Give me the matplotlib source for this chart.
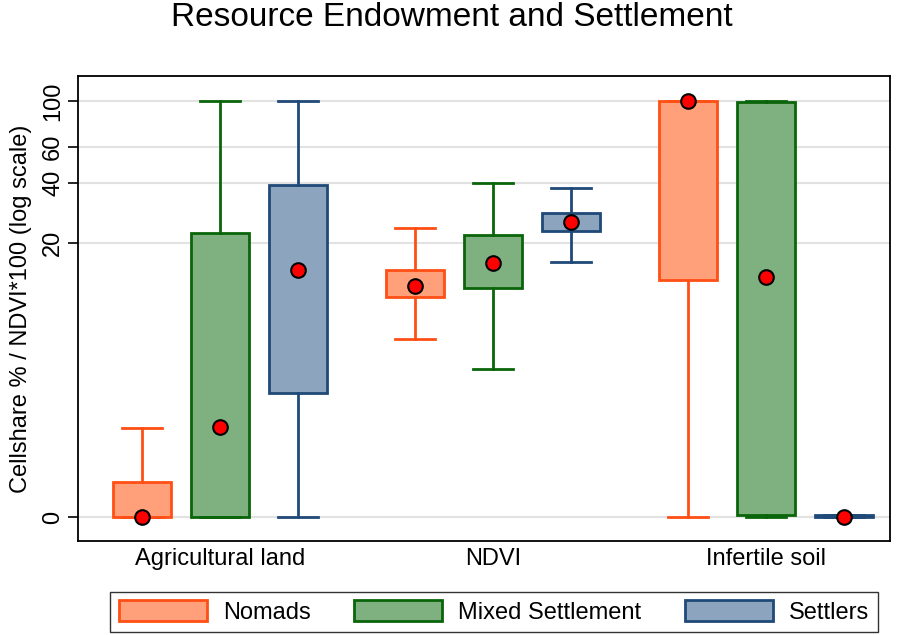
import matplotlib.pyplot as plt
from matplotlib.patches import Patch
import numpy as np

plt.rcParams['font.family'] = ['Liberation Sans', 'DejaVu Sans']

categories = ['Agricultural land', 'NDVI', 'Infertile soil']
groups = ['Nomads', 'Mixed Settlement', 'Settlers']

# box stats per group, one value per category (values in %)
nomads_lo = [0, 6.2, 0]
nomads_q1 = [0, 10.5, 12.9]
nomads_q3 = [0.47, 14.5, 100]
nomads_hi = [1.69, 23.8, 100]
nomads_mean = [0, 12.0, 100]

mixed_lo = [0, 4.2, 0]
mixed_q1 = [0, 11.7, 0.02]
mixed_q3 = [22.5, 21.9, 99]
mixed_hi = [100, 39.9, 100]
mixed_mean = [1.72, 15.8, 13.4]

settlers_lo = [0, 16.0, 0]
settlers_q1 = [2.97, 23.0, 0]
settlers_q3 = [39, 28.3, 0.02]
settlers_hi = [100, 37.7, 0.02]
settlers_mean = [14.5, 25.5, 0]

yticks = [0, 20, 40, 60, 100]

fills = ['#FFA07A', '#7FB07F', '#8CA4BD']
edges = ['#FF4F14', '#0A650A', '#1F4A78']

all_stats = [
    (nomads_lo, nomads_q1, nomads_q3, nomads_hi, nomads_mean),
    (mixed_lo, mixed_q1, mixed_q3, mixed_hi, mixed_mean),
    (settlers_lo, settlers_q1, settlers_q3, settlers_hi, settlers_mean),
]

W, H = 904, 635
fig = plt.figure(figsize=(W / 100, H / 100), dpi=100)
ax = fig.add_axes([78 / W, 1 - 541 / H, 812 / W, 465 / H])
ax.set_yscale('function', functions=(np.log1p, np.expm1))

for gi, (lo, q1, q3, hi, mean) in enumerate(all_stats):
    stats = []
    for ci in range(len(categories)):
        stats.append(dict(whislo=lo[ci], q1=q1[ci], med=q1[ci], q3=q3[ci],
                          whishi=hi[ci], mean=mean[ci], fliers=[]))
    pos = [3.5 * ci + (gi - 1) for ci in range(len(categories))]
    ax.bxp(stats, positions=pos, widths=0.74, capwidths=0.51,
           patch_artist=True, showmeans=True, showfliers=False,
           boxprops=dict(facecolor=fills[gi], edgecolor=edges[gi], linewidth=2),
           whiskerprops=dict(color=edges[gi], linewidth=2),
           capprops=dict(color=edges[gi], linewidth=2),
           medianprops=dict(visible=False),
           meanprops=dict(marker='o', markerfacecolor='red',
                          markeredgecolor='black', markeredgewidth=1.5,
                          markersize=10.5),
           manage_ticks=False, zorder=3)

ax.set_xlim(-1.82, 8.59)
ax.set_ylim(-0.234, 133)
ax.set_yticks(yticks)
ax.set_yticklabels([str(t) for t in yticks], rotation=90, va='center')
ax.yaxis.set_minor_locator(plt.NullLocator())
ax.set_xticks([3.5 * i for i in range(len(categories))])
ax.set_xticklabels(categories)
ax.tick_params(axis='x', length=0, labelsize=17, pad=5)
ax.tick_params(axis='y', length=7, width=1.2, labelsize=17, pad=3)
ax.grid(axis='y', color='#e2e2e2', linewidth=1.5, zorder=0)
ax.set_axisbelow(True)
for s in ax.spines.values():
    s.set_linewidth(1.3)
ax.set_ylabel('Cellshare % / NDVI*100 (log scale)', fontsize=17, va='center')
ax.yaxis.set_label_coords((21 - 78) / 812, 0.5)

fig.text(0.5, 1 - 17 / H, 'Resource Endowment and Settlement', fontsize=24,
         ha='center', va='center')

handles = [Patch(facecolor=fills[i], edgecolor=edges[i], linewidth=2, label=groups[i])
           for i in range(3)]
leg = fig.legend(handles=handles, loc='lower center', ncol=3, fontsize=17,
                 bbox_to_anchor=(494 / W, 3 / H), frameon=True, fancybox=False,
                 edgecolor='black', handlelength=3.73, handleheight=1.0,
                 handletextpad=0.68, columnspacing=1.85, borderpad=0.35,
                 borderaxespad=0)
leg.get_frame().set_linewidth(1.0)

fig.savefig('out.png', dpi=100, facecolor='white')
